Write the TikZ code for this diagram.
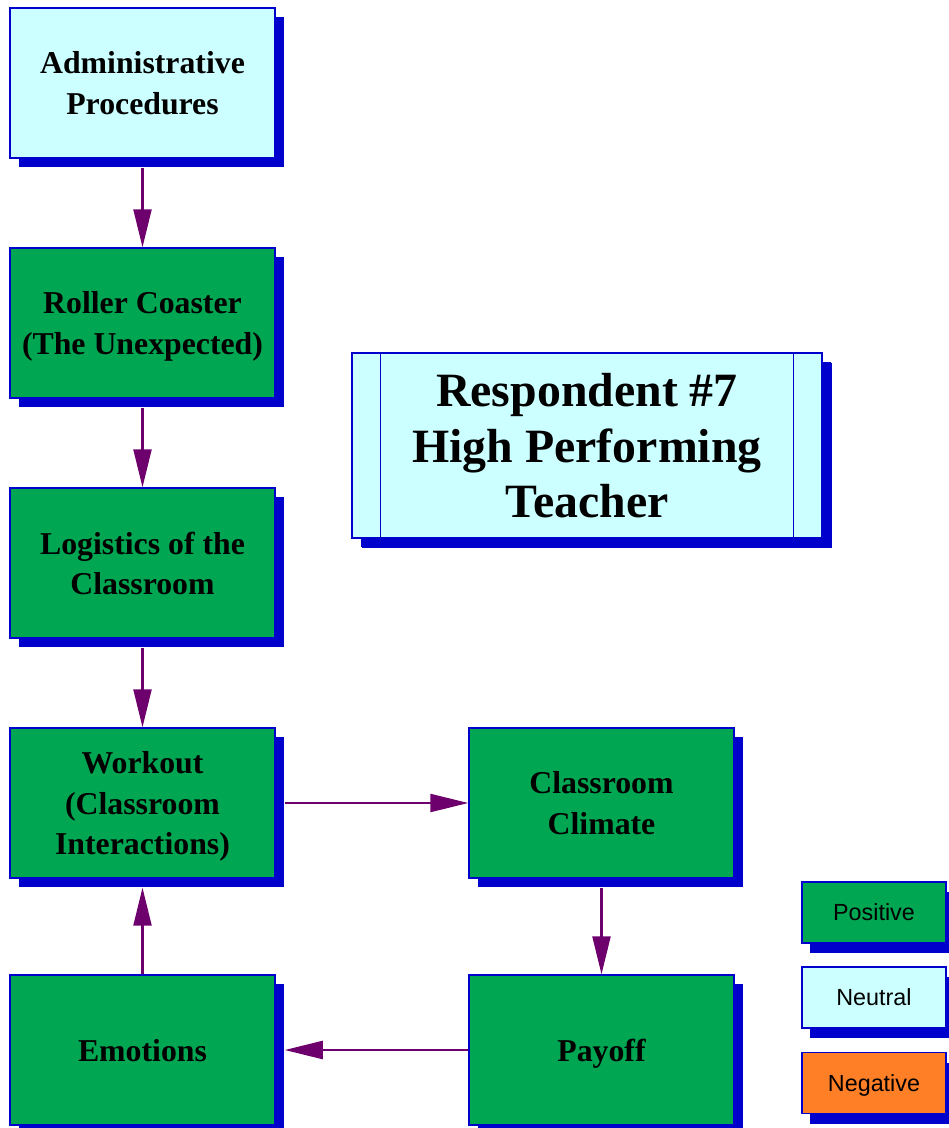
\documentclass[tikz,border=0pt]{standalone}
\usepackage{fontspec}
\setmainfont{Liberation Serif}
\newfontfamily\keyfont{Liberation Sans}
\usetikzlibrary{arrows.meta,shadows}
\definecolor{posgreen}{RGB}{0,166,81}
\definecolor{neutcyan}{RGB}{204,255,255}
\definecolor{negorange}{RGB}{255,127,39}
\definecolor{edgeblue}{RGB}{0,0,204}
\definecolor{flowpurple}{RGB}{110,0,110}

\begin{document}
\begin{tikzpicture}[x=0.025cm,y=-0.025cm,
    every node/.style={font=\fontsize{22.6}{28.5}\selectfont\bfseries, align=center, text depth=0pt},
    stage/.style={draw=edgeblue, line width=1pt, rectangle, minimum width=6.625cm, minimum height=3.75cm,
        drop shadow={shadow xshift=0.225cm, shadow yshift=-0.225cm, fill=edgeblue, opacity=1}},
    goodbox/.style={stage, fill=posgreen},
    neutbox/.style={stage, fill=neutcyan},
    keybox/.style={draw=edgeblue, line width=1pt, rectangle, minimum width=3.6cm, minimum height=1.525cm,
        font=\keyfont\fontsize{16.6}{20}\selectfont,
        drop shadow={shadow xshift=0.2cm, shadow yshift=-0.25cm, fill=edgeblue, opacity=1}},
    flow/.style={-{Triangle[length=0.95cm,width=0.45cm]}, line width=1.6pt, draw=flowpurple}]
    \useasboundingbox (0,0) rectangle (948,1128);

    % left column
    \node[neutbox] (adm) at (142.5,83) {Administrative\\Procedures};
    \node[goodbox] (roller) at (142.5,323) {Roller Coaster\\(The Unexpected)};
    \node[goodbox] (logi) at (142.5,563) {Logistics of the\\Classroom};
    \node[goodbox] (work) at (142.5,803) {Workout\\(Classroom\\Interactions)};
    \node[goodbox] (emo) at (142.5,1050) {Emotions};

    % right column
    \node[goodbox] (clim) at (601.5,803) {Classroom\\Climate};
    \node[goodbox] (pay) at (601.5,1050) {Payoff};

    % title box with the two side bars
    \node[neutbox, minimum width=11.75cm, minimum height=4.625cm, font=\fontsize{34}{39.5}\selectfont\bfseries,
        drop shadow={shadow xshift=0.25cm, shadow yshift=-0.25cm, fill=edgeblue, opacity=1}]
        (title) at (587,445.5) {Respondent \#7\\High Performing\\Teacher};
    \draw[edgeblue, line width=1pt] ([xshift=0.725cm]title.north west) -- ([xshift=0.725cm]title.south west);
    \draw[edgeblue, line width=1pt] ([xshift=-0.725cm]title.north east) -- ([xshift=-0.725cm]title.south east);

    % legend
    \node[keybox, fill=posgreen] (kpos) at (874,912.5) {Positive};
    \node[keybox, fill=neutcyan] (kneut) at (874,997.5) {Neutral};
    \node[keybox, fill=negorange] (kneg) at (874,1083) {Negative};

    \draw[flow] ([yshift=-0.225cm]adm.south) -- (roller.north);
    \draw[flow] ([yshift=-0.225cm]roller.south) -- (logi.north);
    \draw[flow] ([yshift=-0.225cm]logi.south) -- (work.north);
    \draw[flow] ([xshift=0.225cm]work.east) -- (clim.west);
    \draw[flow] ([yshift=-0.225cm]clim.south) -- (pay.north);
    \draw[flow] (pay.west) -- ([xshift=0.225cm]emo.east);
    \draw[flow] (emo.north) -- ([yshift=-0.225cm]work.south);
\end{tikzpicture}
\end{document}
